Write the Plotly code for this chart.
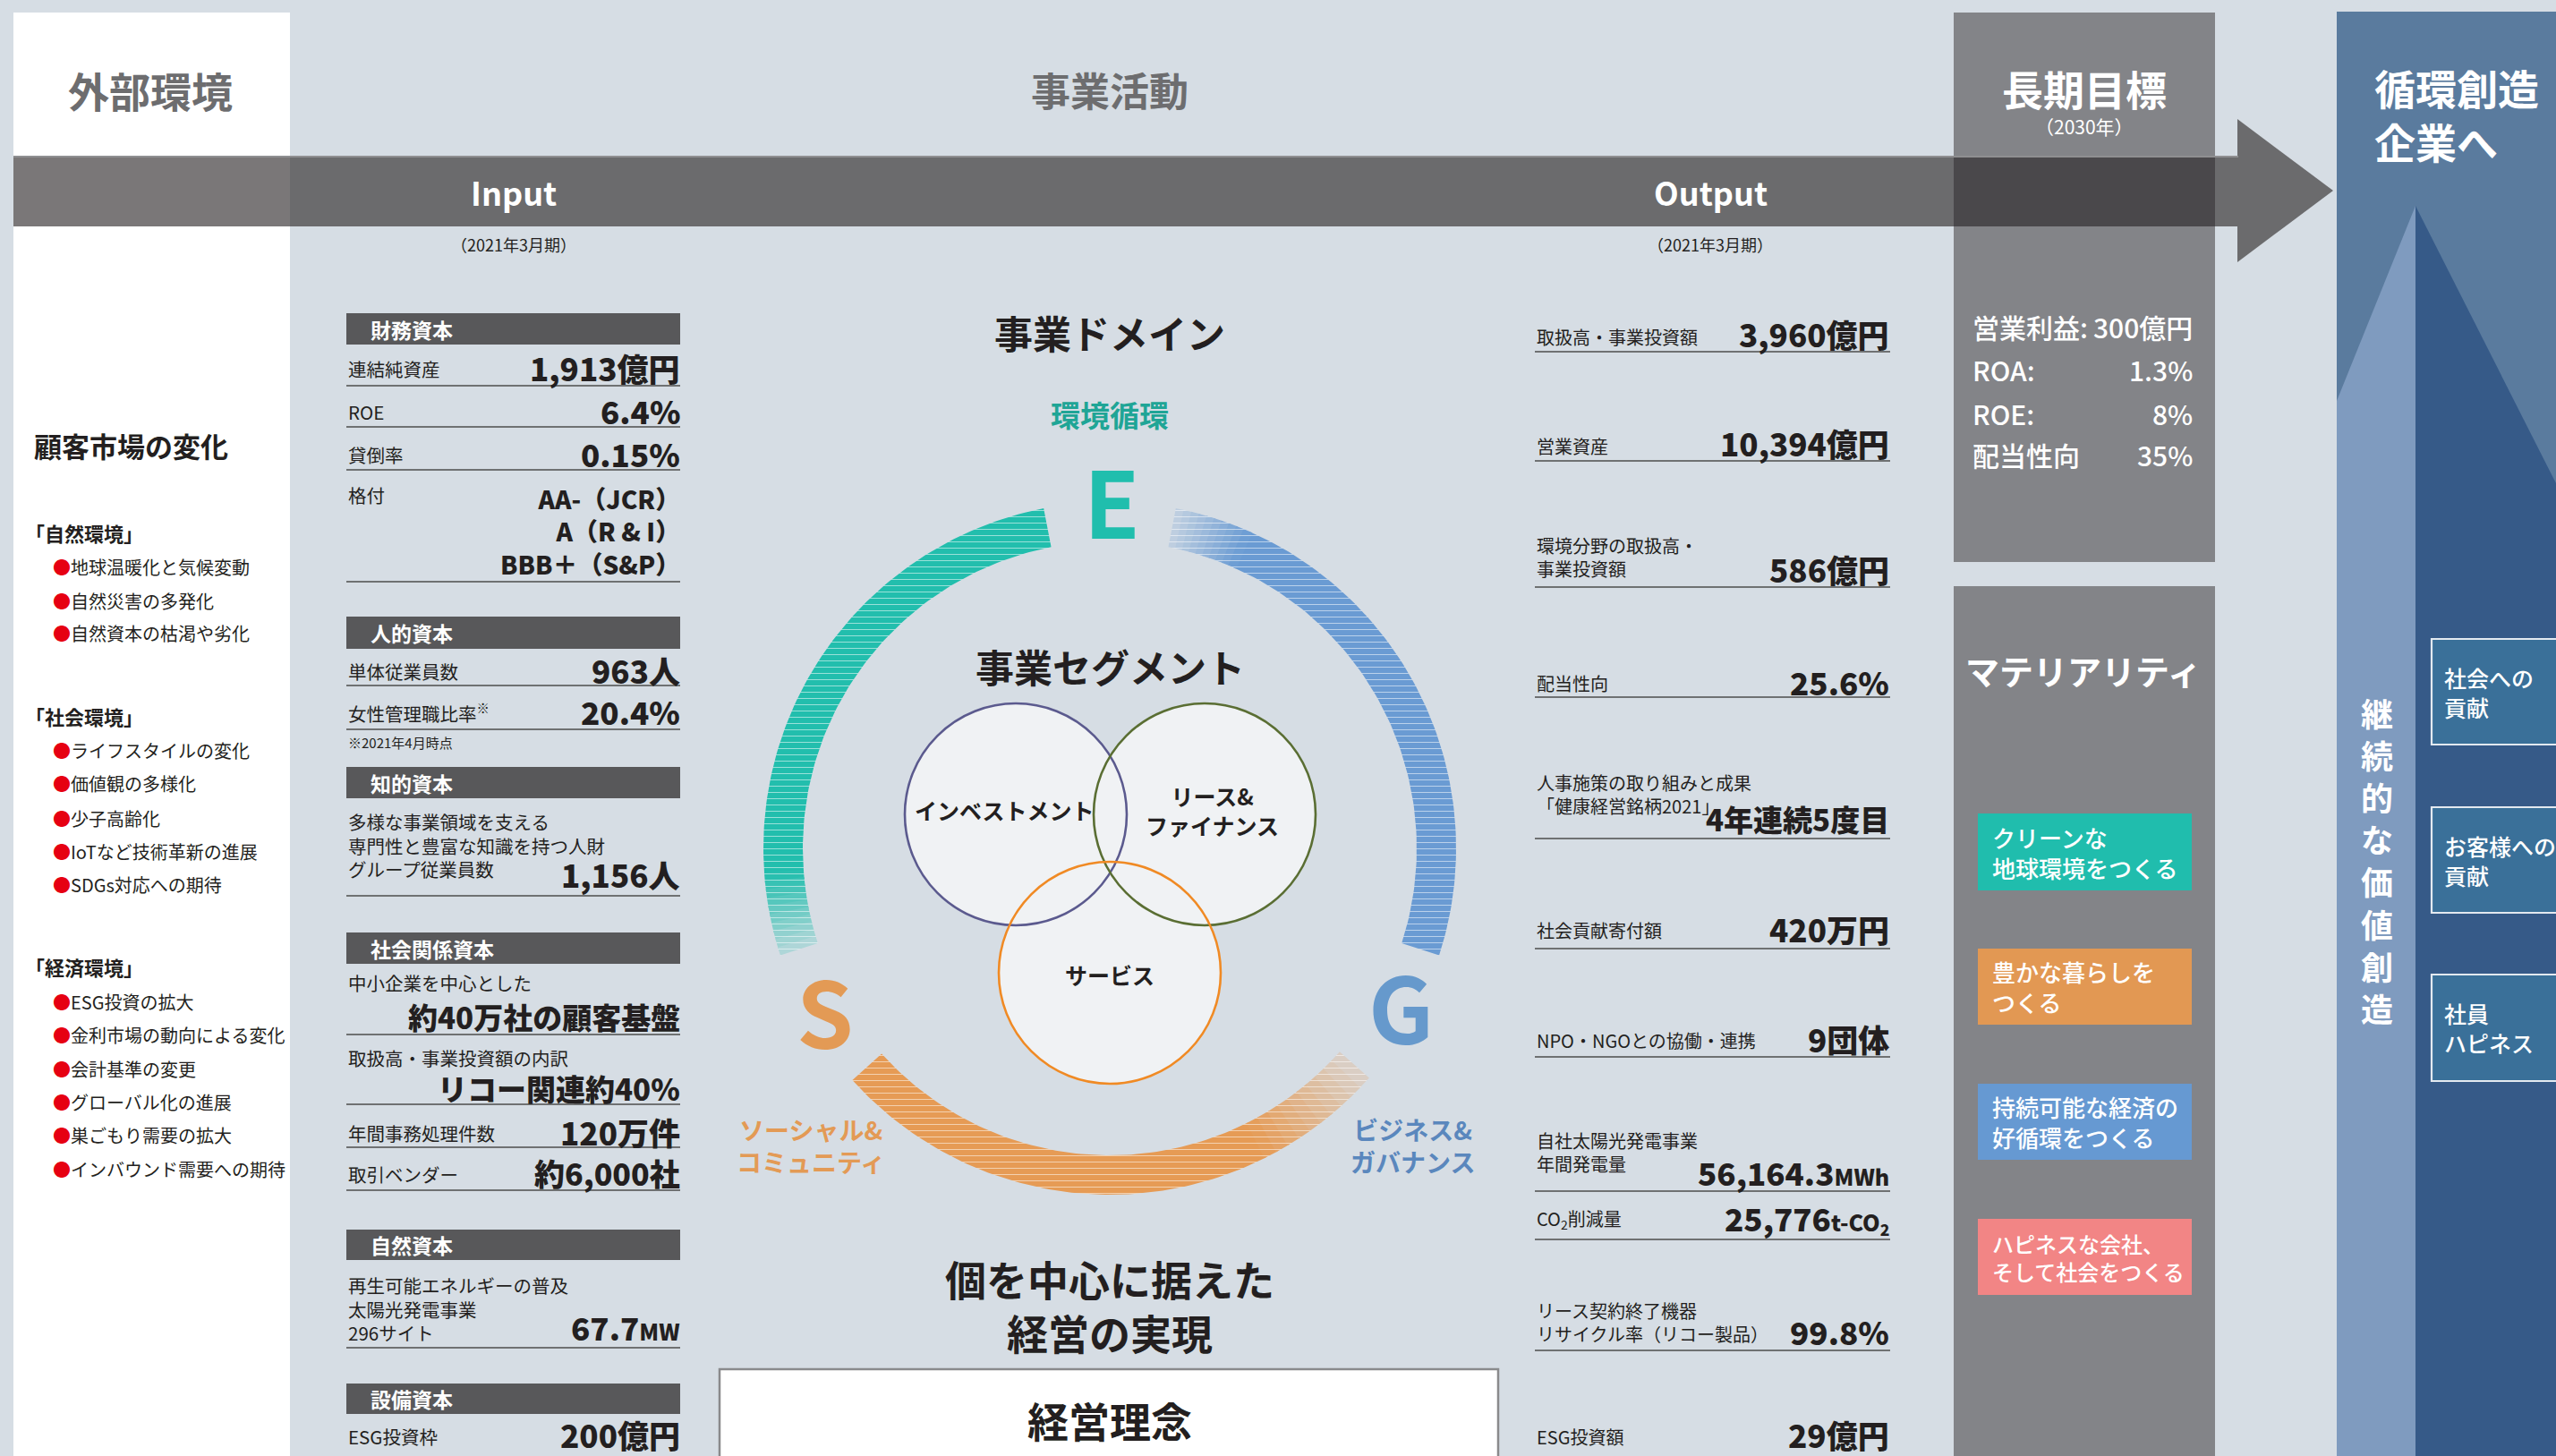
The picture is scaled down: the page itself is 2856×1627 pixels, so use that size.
import numpy as np
import plotly.graph_objects as go

# ---------------- data ----------------
TITLE_EXTERNAL = "外部環境"
TITLE_BUSINESS = "事業活動"
TITLE_LONGTERM = "長期目標"
LONGTERM_YEAR = "（2030年）"
TITLE_FUTURE = "循環創造<br>企業へ"
FLOW_LABELS = ["Input", "Output"]
PERIOD_LABEL = "（2021年3月期）"

ENV_HEADING = "顧客市場の変化"
ENV_GROUPS = ["「自然環境」", "「社会環境」", "「経済環境」"]
ENV_ITEMS = [
    ["地球温暖化と気候変動", "自然災害の多発化", "自然資本の枯渇や劣化"],
    ["ライフスタイルの変化", "価値観の多様化", "少子高齢化", "IoTなど技術革新の進展", "SDGs対応への期待"],
    ["ESG投資の拡大", "金利市場の動向による変化", "会計基準の変更", "グローバル化の進展",
     "巣ごもり需要の拡大", "インバウンド需要への期待"],
]

INPUT_HEADERS = ["財務資本", "人的資本", "知的資本", "社会関係資本", "自然資本", "設備資本"]
INPUT_LABELS = [
    ["連結純資産"], ["ROE"], ["貸倒率"], ["格付"],
    ["単体従業員数"], ["女性管理職比率<sup>※</sup>"],
    ["多様な事業領域を支える", "専門性と豊富な知識を持つ人財", "グループ従業員数"],
    ["中小企業を中心とした"], ["取扱高・事業投資額の内訳"], ["年間事務処理件数"], ["取引ベンダー"],
    ["再生可能エネルギーの普及", "太陽光発電事業", "296サイト"],
    ["ESG投資枠"],
]
INPUT_VALUES = [
    ["1,913億円"], ["6.4%"], ["0.15%"], ["AA-（JCR）", "A（R & I）", "BBB＋（S&P）"],
    ["963人"], ["20.4%"],
    ["1,156人"],
    ["約40万社の顧客基盤"], ["リコー関連約40%"], ["120万件"], ["約6,000社"],
    ["67.7MW"],
    ["200億円"],
]
INPUT_NOTE = "※2021年4月時点"

OUTPUT_LABELS = [
    ["取扱高・事業投資額"], ["営業資産"], ["環境分野の取扱高・", "事業投資額"], ["配当性向"],
    ["人事施策の取り組みと成果", "「健康経営銘柄2021」"], ["社会貢献寄付額"], ["NPO・NGOとの協働・連携"],
    ["自社太陽光発電事業", "年間発電量"], ["CO<sub>2</sub>削減量"],
    ["リース契約終了機器", "リサイクル率（リコー製品）"], ["ESG投資額"],
]
OUTPUT_VALUES = ["3,960億円", "10,394億円", "586億円", "25.6%", "4年連続5度目", "420万円",
                 "9団体", "56,164.3MWh", "25,776t-CO2", "99.8%", "29億円"]

GOAL_LABELS = ["営業利益:", "ROA:", "ROE:", "配当性向"]
GOAL_VALUES = ["300億円", "1.3%", "8%", "35%"]

MATERIALITY_TITLE = "マテリアリティ"
MATERIALITY = ["クリーンな<br>地球環境をつくる", "豊かな暮らしを<br>つくる",
               "持続可能な経済の<br>好循環をつくる", "ハピネスな会社、<br>そして社会をつくる"]

VALUE_TEXT = "継続的な価値創造"
VALUE_ITEMS = ["社会への<br>貢献", "お客様への<br>貢献", "社員<br>ハピネス"]

DOMAIN_TITLE = "事業ドメイン"
DOMAIN_LETTERS = ["E", "S", "G"]
DOMAIN_NAMES = ["環境循環", "ソーシャル&<br>コミュニティ", "ビジネス&<br>ガバナンス"]
SEGMENT_TITLE = "事業セグメント"
SEGMENTS = ["インベストメント", "リース&<br>ファイナンス", "サービス"]
PHILOSOPHY_LEAD = "個を中心に据えた<br>経営の実現"
PHILOSOPHY = "経営理念"

SMALL_UNITS = ["MWh", "MW", "t-CO2"]

# ---------------- layout / style ----------------
W, H = 2856, 1627
FONT = "Noto Sans CJK JP"
BG = "#d6dde4"
INK = "#231f20"
GRAYTXT = "#6d6d6f"
BAND = "#6b6b6d"
COL = "#838488"
HEAVY = 900

INPUT_BAR_Y = [(350, 385), (689, 725), (857, 892), (1042, 1077), (1374, 1408), (1546, 1580)]
INPUT_LABEL_Y = [[412], [460], [508], [553], [750], [796], [918, 944, 970], [1098], [1182],
                 [1266], [1312], [1436, 1462, 1488], [1605]]
INPUT_VALUE_Y = [[410], [458], [506], [558, 594, 629], [748], [794], [976], [1136], [1216],
                 [1264], [1310], [1482], [1602]]
INPUT_VALUE_SIZE = [35, 35, 35, 28, 35, 35, 35, 33, 33, 35, 34, 35, 35]
INPUT_RULE_Y = [431, 477, 525, 650, 766, 815, 1001, 1156, 1234, 1282, 1330, 1506, None]
IN_X0, IN_X1 = 387, 760

OUTPUT_LABEL_Y = [[376], [498], [609, 635], [763], [873, 901], [1039], [1162], [1275, 1300],
                  [1362], [1464, 1490], [1605]]
OUTPUT_VALUE_Y = [372, 494, 635, 761, 915, 1037, 1160, 1309, 1360, 1487, 1602]
OUTPUT_VALUE_SIZE = [35, 35, 35, 35, 33, 35, 35, 35, 35, 35, 35]
OUTPUT_RULE_Y = [393, 515, 656, 779, 937, 1060, 1181, 1331, 1385, 1509, None]
OUT_X0, OUT_X1 = 1715, 2112

GOAL_Y = [365, 413, 462, 508]
MAT_BOX_Y = [(909, 995), (1060, 1145), (1211, 1296), (1362, 1447)]
MAT_COLORS = ["#20bdad", "#e29853", "#6699d2", "#f28585"]
MAT_SIZES = [26, 26, 26, 24]
VALUE_BOX_Y = [(714, 832), (902, 1020), (1089, 1208)]
VERT_X, VERT_Y0, VERT_PITCH = 2656, 796, 47.1

GROUP_Y = [595, 800, 1080]
ITEM_Y = [[633, 671, 707], [838, 875, 914, 951, 988], [1119, 1156, 1194, 1231, 1268, 1306]]

CX, CY, RO, RI = 1240, 948, 387, 343
ARC_SPANS = [(101, 198, "end", 14), (-138, -41.5, "end", 22), (79, -18, "start", 13)]
ARC_COLORS = ["#22bead", "#e69b55", "#6a9bd3"]
LETTER_POS = [(1242, 557), (922, 1127), (1565, 1122)]
LETTER_COLORS = ["#20bead", "#e39a55", "#6699cc"]
NAME_POS = [(1240, 463), (906, 1280), (1578, 1280)]
NAME_COLORS = ["#1fa596", "#e39a55", "#5a87bd"]
NAME_SIZES = [33, 28, 28]

VENN = [(1135, 910), (1346, 910), (1240, 1087)]
VENN_R = 124
VENN_COLORS = ["#5b5a8e", "#5a6e33", "#f08a24"]
VENN_TEXT_POS = [(1122, 905), (1354, 905), (1240, 1089)]

fig = go.Figure()
shapes, ann = [], []


def rect(x0, y0, x1, y1, fill, line=None, lw=0, layer="below"):
    shapes.append(dict(type="rect", x0=x0, y0=y0, x1=x1, y1=y1, fillcolor=fill, layer=layer,
                       line=dict(color=line or fill, width=lw), xref="x", yref="y"))


def poly(pts, fill, layer="below"):
    p = "M " + " L ".join(f"{x},{y}" for x, y in pts) + " Z"
    shapes.append(dict(type="path", path=p, fillcolor=fill, line=dict(width=0), layer=layer,
                       xref="x", yref="y"))


def hline(x0, x1, y, color="#4d4d4d", w=1.6):
    shapes.append(dict(type="line", x0=x0, x1=x1, y0=y, y1=y, line=dict(color=color, width=w),
                       xref="x", yref="y", layer="above"))


def text(x, y, t, size, color=INK, anchor="left", weight="normal", vanchor="middle"):
    ann.append(dict(x=x, y=y, xref="x", yref="y", text=t, showarrow=False, xanchor=anchor,
                    yanchor=vanchor, align=anchor if anchor != "center" else "center",
                    font=dict(family=FONT, size=size, color=color, weight=weight)))


def fmt_value(s, size):
    for u in SMALL_UNITS:
        if s.endswith(u):
            unit = u.replace("CO2", "CO<sub>2</sub>")
            return f"{s[:-len(u)]}<span style='font-size:{int(size*0.72)}px'>{unit}</span>"
    return s


# ---------------- backgrounds ----------------
rect(15, 14, 324, H + 5, "white")
rect(2183, 14, 2475, 628, COL)
rect(2183, 655, 2475, H + 5, COL)
rect(2611, 13, W + 5, H + 5, "#5a7b9e")
poly([(2611, 448), (2699, 230), (2699, H + 5), (2611, H + 5)], "#7f9bbf")
poly([(2699, 230), (W + 5, 550), (W + 5, H + 5), (2699, H + 5)], "#365a88")

# band + arrow
rect(15, 174, 2501, 253, BAND)
poly([(2500, 133), (2607, 213), (2500, 293)], BAND)
rect(15, 174, 324, 253, "#7a7778")
rect(2183, 174, 2475, 253, "#4a484b")
shapes.append(dict(type="line", x0=15, x1=2501, y0=175, y1=175, line=dict(color="#8f8f91", width=2),
                   xref="x", yref="y", layer="below"))

# titles
text(168, 100, f"<b>{TITLE_EXTERNAL}</b>", 46, GRAYTXT, "center")
text(1240, 100, f"<b>{TITLE_BUSINESS}</b>", 44, GRAYTXT, "center")
text(2329, 98, f"<b>{TITLE_LONGTERM}</b>", 46, "white", "center")
text(2329, 141, LONGTERM_YEAR, 21, "white", "center")
text(2651, 127, f"<b>{TITLE_FUTURE}</b>", 46, "white", "left")
for lbl, x in zip(FLOW_LABELS, [574, 1911]):
    text(x, 214, f"<b>{lbl}</b>", 36, "white", "center")
    text(x, 273, PERIOD_LABEL, 18, INK, "center")

# ---------------- left column ----------------
text(36, 497, f"<b>{ENV_HEADING}</b>", 31)
for g, gy, items, iys in zip(ENV_GROUPS, GROUP_Y, ENV_ITEMS, ITEM_Y):
    text(26, gy, f"<b>{g}</b>", 22)
    for it, iy in zip(items, iys):
        text(57, iy, f"<span style='color:#e60012'>●</span>{it}", 20)

# ---------------- input column ----------------
for hdr, (y0, y1) in zip(INPUT_HEADERS, INPUT_BAR_Y):
    rect(IN_X0, y0, IN_X1, y1, "#58585a", layer="above")
    text(412, (y0 + y1) / 2, f"<b>{hdr}</b>", 23, "white")
for labels, lys, vals, vys, vs, ry in zip(INPUT_LABELS, INPUT_LABEL_Y, INPUT_VALUES,
                                          INPUT_VALUE_Y, INPUT_VALUE_SIZE, INPUT_RULE_Y):
    text(IN_X0, float(np.mean(lys)), "<br>".join(labels), 20.5)
    text(IN_X1 + 2, float(np.mean(vys)), "<br>".join(fmt_value(v, vs) for v in vals), vs, INK,
         "right", weight=HEAVY)
    if ry is not None:
        hline(IN_X0, IN_X1, ry)
text(IN_X0, 829, INPUT_NOTE, 15)

# ---------------- center ----------------
text(1240, 371, f"<b>{DOMAIN_TITLE}</b>", 43, INK, "center")


def blend(c1, c2, t):
    a = [int(c1[i:i + 2], 16) for i in (1, 3, 5)]
    b = [int(c2[i:i + 2], 16) for i in (1, 3, 5)]
    return "#" + "".join(f"{int(round(x + (y - x) * t)):02x}" for x, y in zip(a, b))


def arc_xy(a0, a1, n=80):
    t = np.radians(np.linspace(a0, a1, n))
    xs = np.concatenate([CX + RO * np.cos(t), CX + RI * np.cos(t[::-1])])
    ys = np.concatenate([CY - RO * np.sin(t), CY - RI * np.sin(t[::-1])])
    return np.append(xs, xs[0]), np.append(ys, ys[0])


def add_arc(a0, a1, color):
    xs, ys = arc_xy(a0, a1)
    fig.add_trace(go.Scatter(x=xs, y=ys, mode="lines", line=dict(width=0), fill="toself",
                             fillcolor=color, hoverinfo="skip", showlegend=False,
                             fillpattern=dict(shape="-", bgcolor=color, fgcolor="white",
                                              fgopacity=0.55, size=7, solidity=0.14)))


for (a0, a1, side, fw), col in zip(ARC_SPANS, ARC_COLORS):
    sgn = 1 if a1 > a0 else -1
    nfade = 10
    if side == "end":
        fstart = a1 - sgn * fw
        add_arc(a0, fstart + sgn * 0.3, col)
        for k in range(nfade):
            s = fstart + sgn * fw * k / nfade
            e = fstart + sgn * fw * (k + 1) / nfade + (sgn * 0.3 if k < nfade - 1 else 0)
            add_arc(s, e, blend(col, BG, 0.82 * (k + 0.5) / nfade))
    else:
        add_arc(a0 + sgn * fw - sgn * 0.3, a1, col)
        for k in range(nfade):
            s = a0 + sgn * fw * k / nfade
            e = a0 + sgn * fw * (k + 1) / nfade + sgn * 0.3
            add_arc(s, e, blend(col, BG, 0.82 * (1 - (k + 0.5) / nfade)))

for L, (lx, ly), lc in zip(DOMAIN_LETTERS, LETTER_POS, LETTER_COLORS):
    text(lx, ly, f"<b>{L}</b>", 102, lc, "center")
for nm, (nx, ny), nc, ns in zip(DOMAIN_NAMES, NAME_POS, NAME_COLORS, NAME_SIZES):
    text(nx, ny, f"<b>{nm}</b>", ns, nc, "center")

text(1240, 744, f"<b>{SEGMENT_TITLE}</b>", 43, INK, "center")
for (vx, vy) in VENN:
    shapes.append(dict(type="circle", x0=vx - VENN_R, x1=vx + VENN_R, y0=vy - VENN_R, y1=vy + VENN_R,
                       fillcolor="#f0f2f4", line=dict(width=0), xref="x", yref="y", layer="above"))
for (vx, vy), vc in zip(VENN, VENN_COLORS):
    shapes.append(dict(type="circle", x0=vx - VENN_R, x1=vx + VENN_R, y0=vy - VENN_R, y1=vy + VENN_R,
                       fillcolor="rgba(0,0,0,0)", line=dict(color=vc, width=2.6), xref="x", yref="y",
                       layer="above"))
for sname, (sx, sy) in zip(SEGMENTS, VENN_TEXT_POS):
    text(sx, sy, f"<b>{sname}</b>", 25, INK, "center")

text(1240, 1458, f"<b>{PHILOSOPHY_LEAD}</b>", 46, INK, "center")
rect(804, 1530, 1674, H + 20, "white", "#8a8a8c", 2.5, layer="above")
text(1240, 1586, f"<b>{PHILOSOPHY}</b>", 46, INK, "center")

# ---------------- output column ----------------
for labels, lys, v, vy, vs, ry in zip(OUTPUT_LABELS, OUTPUT_LABEL_Y, OUTPUT_VALUES, OUTPUT_VALUE_Y,
                                      OUTPUT_VALUE_SIZE, OUTPUT_RULE_Y):
    text(OUT_X0, float(np.mean(lys)), "<br>".join(labels), 20)
    text(OUT_X1 + 1, vy, fmt_value(v, vs), vs, INK, "right", weight=HEAVY)
    if ry is not None:
        hline(OUT_X0, OUT_X1, ry)

# ---------------- long-term goals ----------------
for gl, gv, gy in zip(GOAL_LABELS, GOAL_VALUES, GOAL_Y):
    text(2202, gy, gl, 30, "white", "left", weight=500)
    text(2452, gy, gv, 30, "white", "right", weight=500)

text(2328, 748, f"<b>{MATERIALITY_TITLE}</b>", 38, "white", "center")
for m, (y0, y1), mc, ms in zip(MATERIALITY, MAT_BOX_Y, MAT_COLORS, MAT_SIZES):
    rect(2210, y0, 2449, y1, mc, layer="above")
    text(2224, (y0 + y1) / 2, m, ms, "white", "left", weight=500)

# ---------------- value creation ----------------
for i, ch in enumerate(VALUE_TEXT):
    text(VERT_X, VERT_Y0 + i * VERT_PITCH, f"<b>{ch}</b>", 36, "white", "center")
for v, (y0, y1) in zip(VALUE_ITEMS, VALUE_BOX_Y):
    rect(2717, y0, W + 10, y1, "#3a7099", "#e3e9f0", 2.2, layer="above")
    text(2729, (y0 + y1) / 2, v, 25, "white", "left", weight=500)

fig.update_layout(
    width=W, height=H, autosize=False,
    margin=dict(l=0, r=0, t=0, b=0),
    paper_bgcolor=BG, plot_bgcolor=BG,
    xaxis=dict(range=[0, W], visible=False, fixedrange=True),
    yaxis=dict(range=[H, 0], visible=False, fixedrange=True),
    shapes=shapes, annotations=ann, showlegend=False,
)

fig.write_html("out.html", config={"displayModeBar": False},
               post_script="document.body.style.margin='0';document.body.style.overflow='hidden';")
